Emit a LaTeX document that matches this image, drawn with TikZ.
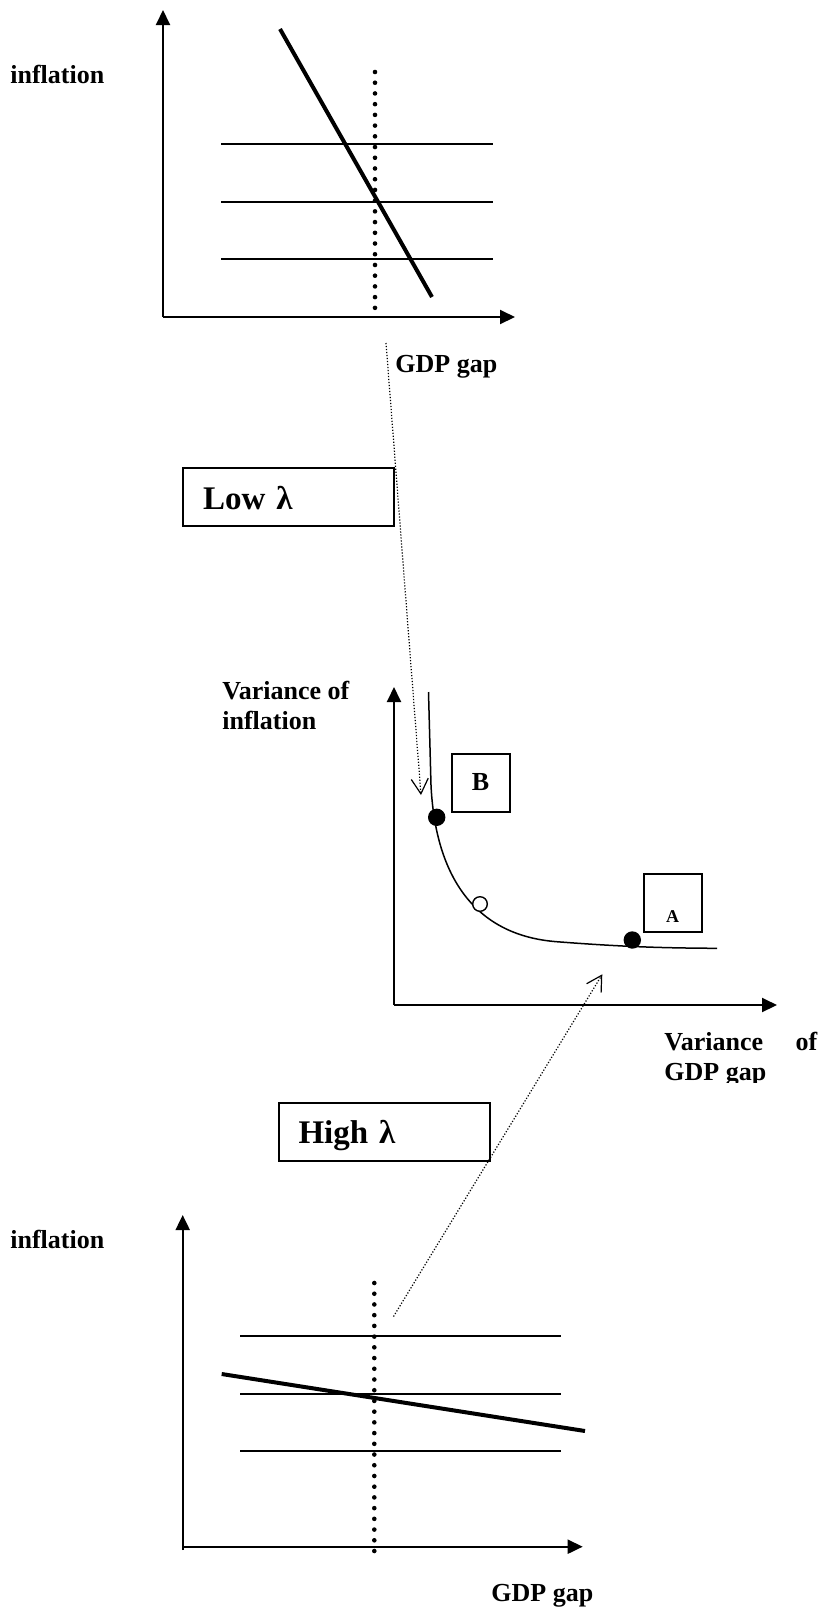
\documentclass[tikz,border=0pt]{standalone}
\usepackage{fontspec}
\setmainfont{Liberation Serif}
\usetikzlibrary{arrows.meta}

\begin{document}
\begin{tikzpicture}[
    x=0.5pt, y=-0.5pt,
    axis/.style={line width=1pt, -{Triangle[length=7.5pt, width=7pt]}},
    level/.style={line width=0.8pt},
    rule/.style={line width=2pt},
    gapline/.style={line width=2.3pt, line cap=round, dash pattern=on 0pt off 5.36pt},
    link/.style={line width=0.6pt, dash pattern=on 0.6pt off 0.9pt, -{Straight Barb[length=7.5pt, width=8.5pt, line width=0.6pt]}},
    lbl/.style={font=\fontsize{13}{15}\selectfont\bfseries, inner sep=0pt},
    lambdabox/.style={draw, line width=1pt, minimum height=29pt, inner xsep=10pt, inner ysep=0pt, text width=85.5pt, align=left, text height=12pt, text depth=0pt, font=\fontsize{16.5}{19}\selectfont\bfseries},
    pointbox/.style={draw, line width=1pt, minimum width=29pt, minimum height=29pt, inner sep=0pt},
    bigdot/.style={circle, fill, inner sep=0pt, minimum size=8.7pt},
    opendot/.style={circle, draw, line width=0.7pt, fill=white, inner sep=0pt, minimum size=7.3pt}
  ]
    \useasboundingbox (0,0) rectangle (821,1613);

    % Top panel: low lambda
    \draw[axis] (163,317) -- (163,10);
    \draw[axis] (163,317) -- (515,317);
    \node[lbl, anchor=base west] (infltop) at (10,83) {inflation};
    \node[lbl, anchor=base west] (gaptop) at (395,372) {GDP gap};
    \draw[level] (221,144) -- (493,144);
    \draw[level] (221,202) -- (493,202);
    \draw[level] (221,259) -- (493,259);
    \draw[gapline] (375,72) -- (375,308);
    \draw[rule] (280,29) -- (432,297);

    % Lambda boxes
    \node[lambdabox] (lowbox) at (288.5,497) {Low λ};
    \node[lambdabox] (highbox) at (384,1131.5) {High λ};

    % Middle panel: trade-off curve
    \draw[axis] (394,1005) -- (394,687);
    \draw[axis] (394,1005) -- (777,1005);
    \node[lbl, anchor=north west, align=left] (varinfl) at (222,681) {Variance of\\inflation};
    \begin{scope}
      \clip (600,1010) rectangle (821,1082);
      \node[lbl, anchor=north west, align=left] (vargap) at (664,1032) {\makebox[76.5pt][l]{Variance\hfill of}\\GDP gap};
    \end{scope}
    \draw[line width=0.75pt] (428.5,692) -- (431,785)
      .. controls (435,870) and (470,935) .. (556.7,941.7)
      .. controls (620,946.6) and (660,948) .. (717,948.3);
    \node[bigdot] (dotB) at (436.7,817.3) {};
    \node[opendot] (dotmid) at (480,904) {};
    \node[bigdot] (dotA) at (632.3,940) {};
    \node[pointbox, lbl] (boxB) at (480.5,782.5) {B};
    \node[pointbox, font=\fontsize{9}{10}\selectfont\bfseries, text height=18.7pt, text depth=0pt] (boxA) at (672.5,903.3) {A};

    % Bottom panel: high lambda
    \draw[axis] (182.7,1550) -- (182.7,1215);
    \draw[axis] (182.7,1546.7) -- (582.7,1546.7);
    \node[lbl, anchor=base west] (inflbot) at (10,1248) {inflation};
    \node[lbl, anchor=base west] (gapbot) at (491,1601) {GDP gap};
    \draw[level] (240,1336) -- (561,1336);
    \draw[level] (240,1394) -- (561,1394);
    \draw[level] (240,1451) -- (561,1451);
    \draw[gapline] (374.3,1283) -- (374.3,1551);
    \draw[rule] (221.7,1374) -- (585,1431);

    % Dotted links to the frontier
    \coordinate (lowstart) at (386,343);
    \coordinate (lowend) at (421,795);
    \coordinate (highstart) at (393.5,1316.5);
    \coordinate (highend) at (602.3,974.3);
    \draw[link] (lowstart) -- (lowend);
    \draw[link] (highstart) -- (highend);

  \end{tikzpicture}
\end{document}
